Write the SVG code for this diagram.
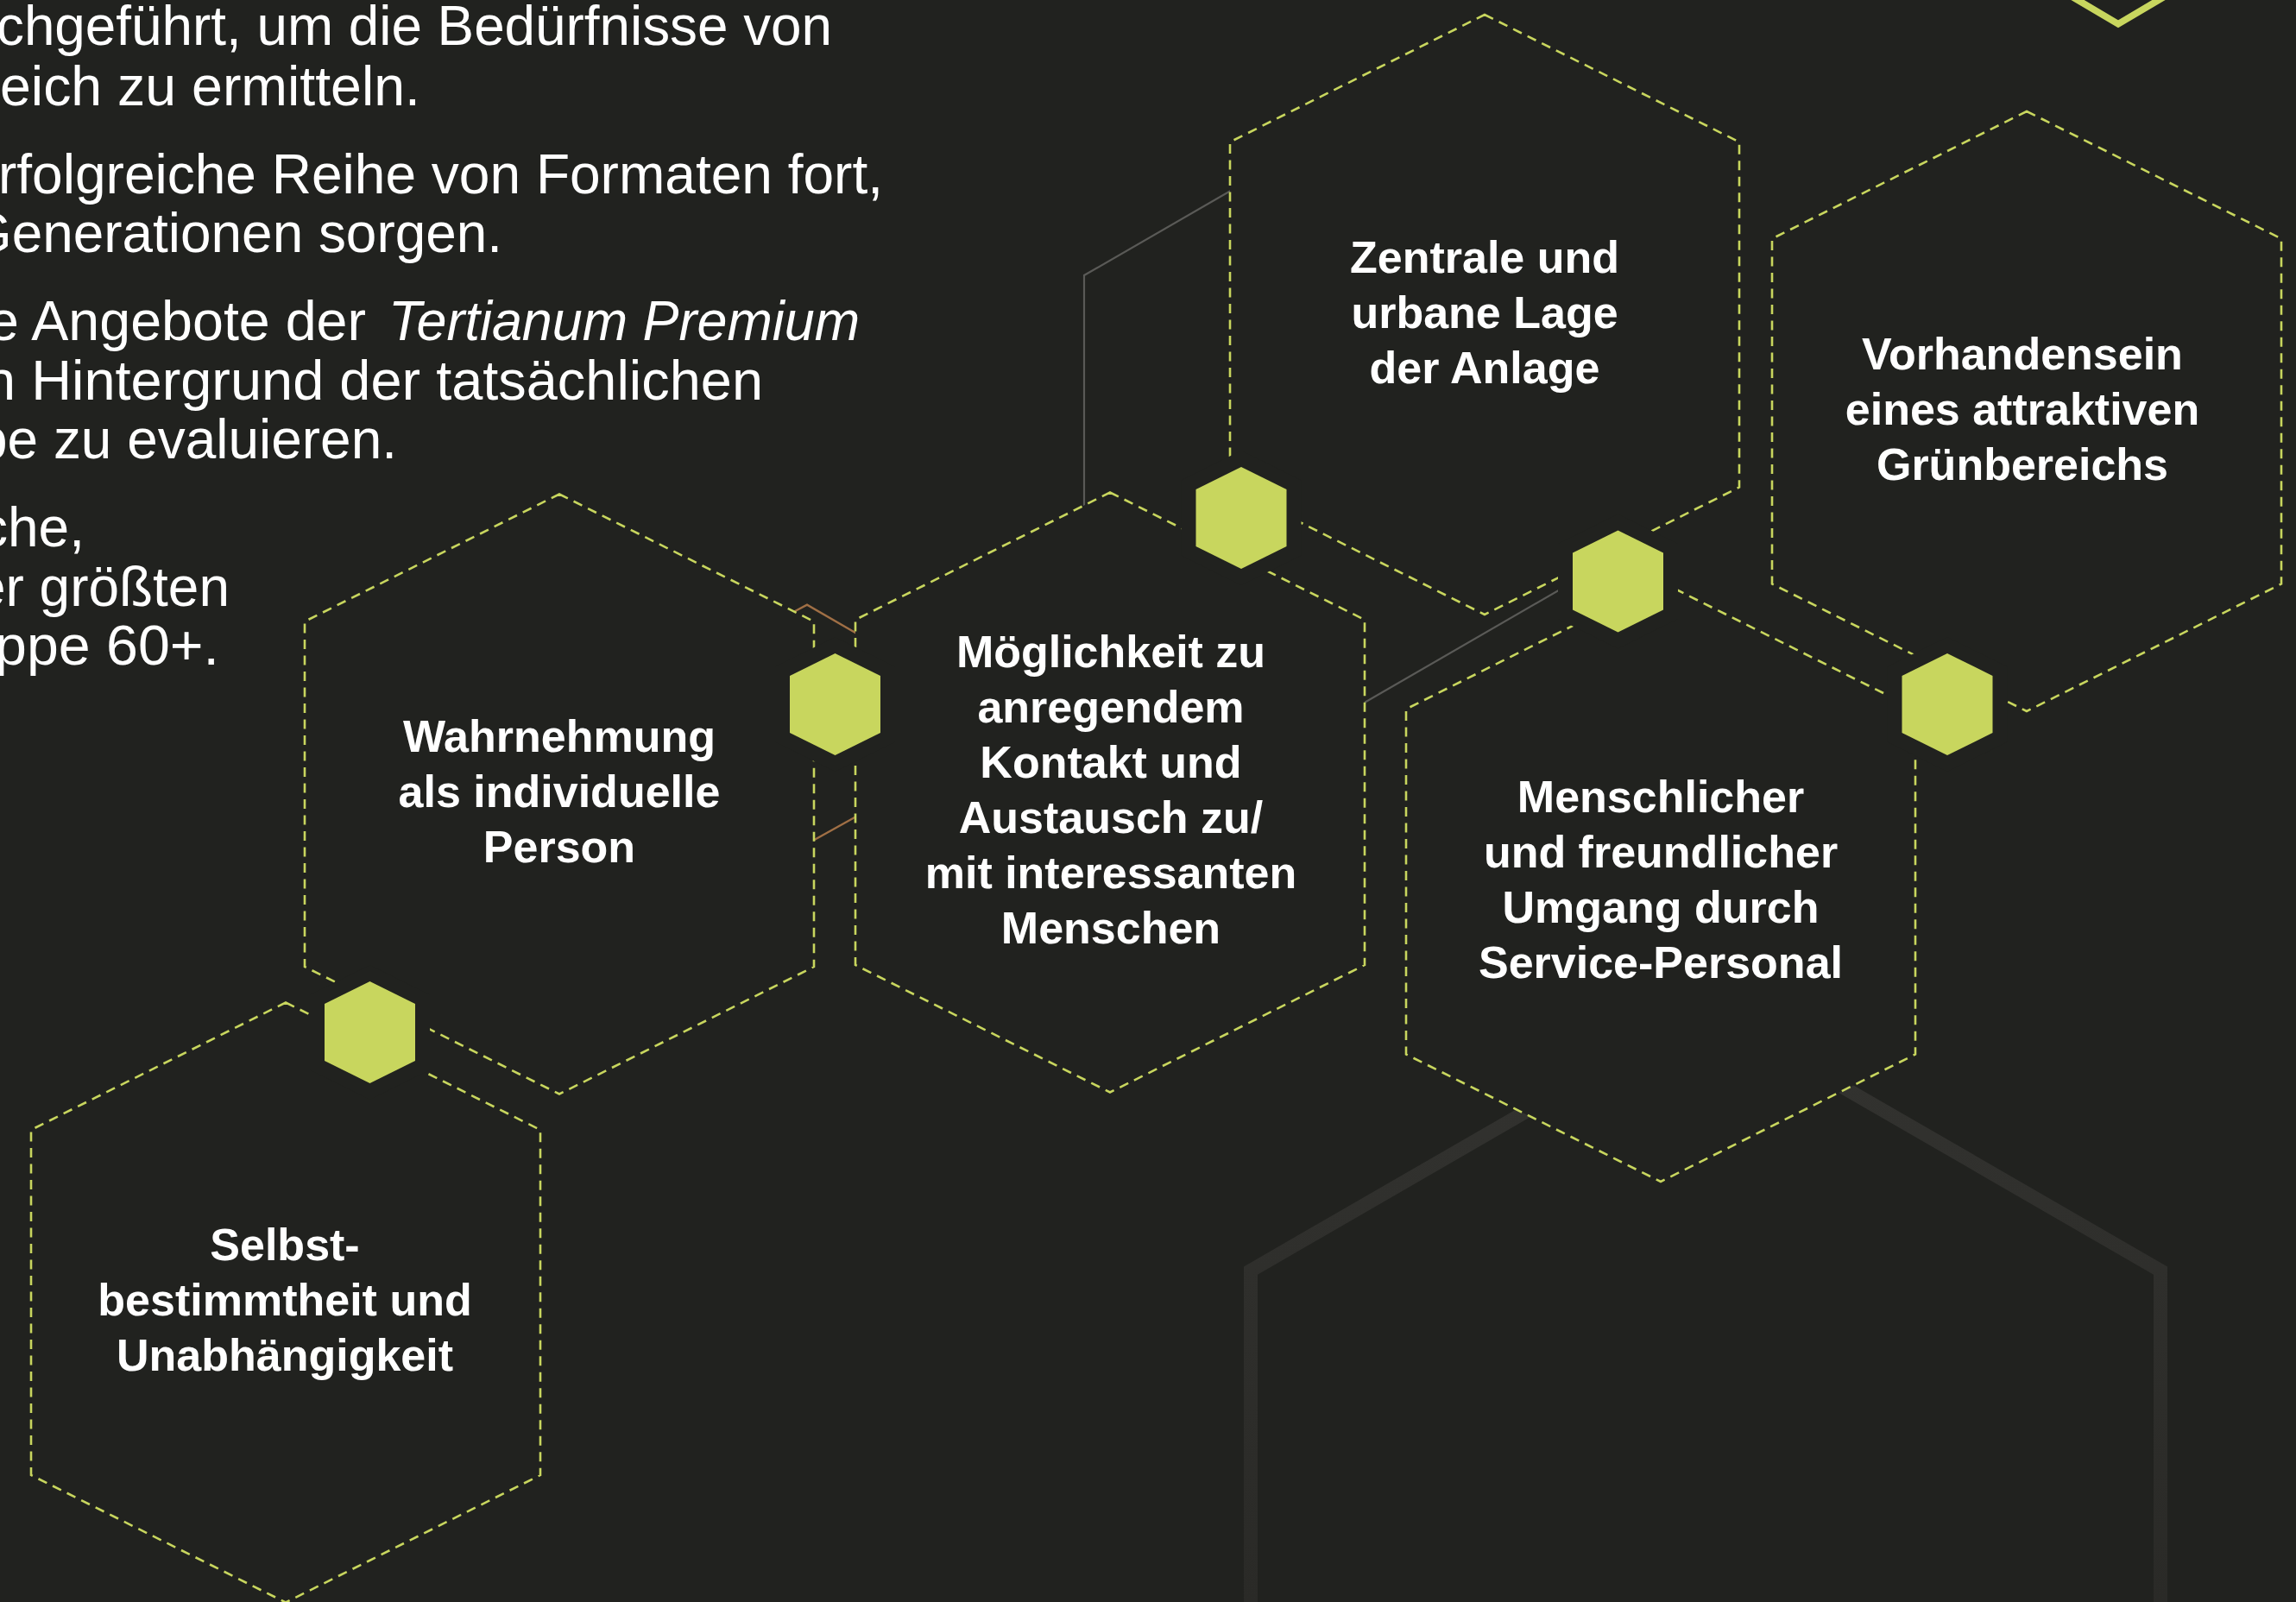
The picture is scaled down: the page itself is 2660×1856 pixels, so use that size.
<svg xmlns="http://www.w3.org/2000/svg" xmlns:xlink="http://www.w3.org/1999/xlink" width="2660" height="1856" viewBox="0 0 2660 1856">
<style>
.body{font-family:"Liberation Sans",Arial,sans-serif;font-size:64px;fill:#ffffff}
.it{font-style:italic}
.lbl{font-family:"Liberation Sans",Arial,sans-serif;font-size:52px;font-weight:bold;fill:#ffffff;text-anchor:middle}
.hex{fill:#21221f;stroke:#c8d65e;stroke-width:2.6;stroke-dasharray:11 7.5}
.dot{fill:#c8d65e;stroke:#21221f;stroke-width:34;stroke-linejoin:miter;paint-order:stroke}
.gray{fill:none;stroke:#5a5a57;stroke-width:2.2}
.brown{fill:none;stroke:#a06f45;stroke-width:2.4}
</style>
<defs>
<polygon id="hexshape" points="0,-347.5 295,-200 295,200 0,347.5 -295,200 -295,-200"/>
<polygon id="dotshape" points="0,-59 52.5,-33 52.5,33 0,59 -52.5,33 -52.5,-33"/>
<linearGradient id="bigfade" x1="0" y1="1160" x2="0" y2="1856" gradientUnits="userSpaceOnUse">
<stop offset="0" stop-color="#333330"/>
<stop offset="1" stop-color="#2a2a27"/>
</linearGradient>
</defs>
<rect x="0" y="0" width="2660" height="1856" fill="#21221f"/>

<g id="intro-text">
<text class="body" x="-4" y="52" textLength="968" lengthAdjust="spacingAndGlyphs">chgeführt, um die Bedürfnisse von</text>
<text class="body" x="0" y="122" textLength="487" lengthAdjust="spacingAndGlyphs">eich zu ermitteln.</text>
<text class="body" x="-2" y="224" textLength="1025" lengthAdjust="spacingAndGlyphs">rfolgreiche Reihe von Formaten fort,</text>
<text class="body" x="-36" y="292" textLength="618" lengthAdjust="spacingAndGlyphs">Generationen sorgen.</text>
<text class="body" x="-14" y="394" textLength="438" lengthAdjust="spacingAndGlyphs">e Angebote der</text>
<text class="body it" x="450" y="394" textLength="546" lengthAdjust="spacingAndGlyphs">Tertianum Premium</text>
<text class="body" x="-18" y="463" textLength="902" lengthAdjust="spacingAndGlyphs">n Hintergrund der tatsächlichen</text>
<text class="body" x="-27" y="531" textLength="487" lengthAdjust="spacingAndGlyphs">pe zu evaluieren.</text>
<text class="body" x="-23" y="633" textLength="121" lengthAdjust="spacingAndGlyphs">che,</text>
<text class="body" x="-29" y="702" textLength="295" lengthAdjust="spacingAndGlyphs">er größten</text>
<text class="body" x="-6" y="770" textLength="260" lengthAdjust="spacingAndGlyphs">ppe 60+.</text>
</g>

<g id="connectors">
<polyline class="gray" points="1256,700 1256,319 1440,212.8"/>
<polyline class="gray" points="1560,826 1835,667"/>
<polyline class="brown" points="917,710.2 935,700.7 1000,738.3"/>
<polyline class="brown" points="930,980.5 1000,941.5"/>
<polyline fill="none" stroke="url(#bigfade)" stroke-width="16" stroke-linejoin="miter" points="1449,1900 1449,1472 1976,1167.7 2503,1472 2503,1900"/>
<polyline fill="none" stroke="#c8d65e" stroke-width="7.8" stroke-linejoin="miter" points="2380,-16 2454,27.8 2528,-16"/>
</g>

<g id="node-wahrnehmung">
<use xlink:href="#hexshape" href="#hexshape" class="hex" x="648" y="920"/>
<text class="lbl" x="648" y="871">Wahrnehmung</text>
<text class="lbl" x="648" y="935">als individuelle</text>
<text class="lbl" x="648" y="999">Person</text>
</g>

<g id="node-moeglichkeit">
<use xlink:href="#hexshape" href="#hexshape" class="hex" x="1286" y="918"/>
<text class="lbl" x="1287" y="773">Möglichkeit zu</text>
<text class="lbl" x="1287" y="837">anregendem</text>
<text class="lbl" x="1287" y="901">Kontakt und</text>
<text class="lbl" x="1287" y="965">Austausch zu/</text>
<text class="lbl" x="1287" y="1029">mit interessanten</text>
<text class="lbl" x="1287" y="1093">Menschen</text>
</g>

<g id="node-zentrale">
<use xlink:href="#hexshape" href="#hexshape" class="hex" x="1720" y="364.5"/>
<text class="lbl" x="1720" y="315.5">Zentrale und</text>
<text class="lbl" x="1720" y="379.5">urbane Lage</text>
<text class="lbl" x="1720" y="443.5">der Anlage</text>
</g>

<g id="node-vorhandensein">
<use xlink:href="#hexshape" href="#hexshape" class="hex" x="2348" y="476.5"/>
<text class="lbl" x="2343" y="427.5">Vorhandensein</text>
<text class="lbl" x="2343" y="491.5">eines attraktiven</text>
<text class="lbl" x="2343" y="555.5">Grünbereichs</text>
</g>

<g id="node-menschlicher">
<use xlink:href="#hexshape" href="#hexshape" class="hex" x="1924" y="1021.5"/>
<text class="lbl" x="1924" y="940.5">Menschlicher</text>
<text class="lbl" x="1924" y="1004.5">und freundlicher</text>
<text class="lbl" x="1924" y="1068.5">Umgang durch</text>
<text class="lbl" x="1924" y="1132.5">Service-Personal</text>
</g>

<g id="node-selbstbestimmtheit">
<use xlink:href="#hexshape" href="#hexshape" class="hex" x="331" y="1509"/>
<text class="lbl" x="330" y="1460">Selbst-</text>
<text class="lbl" x="330" y="1524">bestimmtheit und</text>
<text class="lbl" x="330" y="1588">Unabhängigkeit</text>
</g>

<g id="junction-1"><use xlink:href="#dotshape" href="#dotshape" class="dot" x="967.5" y="816"/></g>
<g id="junction-2"><use xlink:href="#dotshape" href="#dotshape" class="dot" x="1438" y="600"/></g>
<g id="junction-3"><use xlink:href="#dotshape" href="#dotshape" class="dot" x="1874.5" y="673.5"/></g>
<g id="junction-4"><use xlink:href="#dotshape" href="#dotshape" class="dot" x="2256" y="816"/></g>
<g id="junction-5"><use xlink:href="#dotshape" href="#dotshape" class="dot" x="428.5" y="1196"/></g>
</svg>
